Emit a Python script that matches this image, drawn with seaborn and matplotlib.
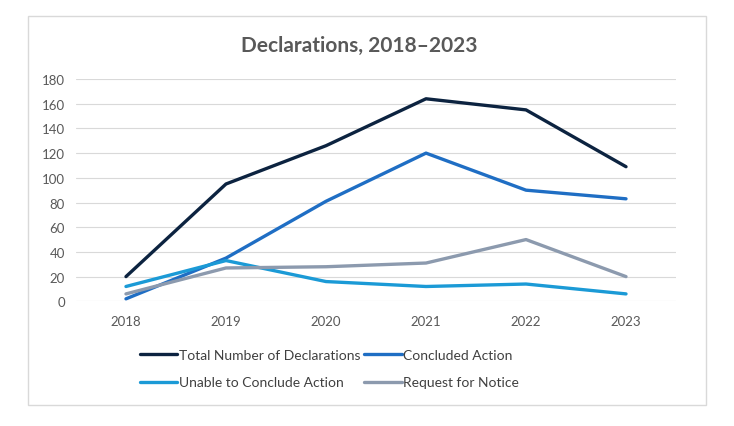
import pandas as pd
import matplotlib.pyplot as plt
import seaborn as sns
from matplotlib.patches import Rectangle

years = [2018, 2019, 2020, 2021, 2022, 2023]
total = [20, 95, 126, 164, 155, 109]
concluded = [2, 35, 81, 120, 90, 83]
unable = [12, 33, 16, 12, 14, 6]
request = [6, 27, 28, 31, 50, 20]

series_names = ['Total Number of Declarations', 'Concluded Action',
                'Unable to Conclude Action', 'Request for Notice']
colors = ['#0c2340', '#1f6ec4', '#1b9ad6', '#8c9aae']

df = pd.DataFrame({'Year': years * 4,
                   'Count': total + concluded + unable + request,
                   'Series': [s for s in series_names for _ in years]})

sns.set_style('white')
plt.rcParams['font.family'] = ['Lato', 'DejaVu Sans']

fig = plt.figure(figsize=(7.34, 4.27), dpi=100)
ax = fig.add_axes([0.1035, 0.292, 0.8175, 0.5206])

sns.lineplot(data=df, x='Year', y='Count', hue='Series', hue_order=series_names,
             palette=colors, linewidth=2.4, ax=ax, legend=True)

ax.set_xlim(2017.5, 2023.5)
ax.set_ylim(0, 180)
ax.set_xticks(years)
ax.set_yticks(range(0, 181, 20))
ax.grid(axis='y', color='#d9d9d9', linewidth=0.8)
ax.set_axisbelow(True)
for s in ax.spines.values():
    s.set_visible(False)
ax.tick_params(axis='both', length=0, labelsize=9.5, labelcolor='#595959')
ax.tick_params(axis='x', pad=10)
ax.tick_params(axis='y', pad=8)
ax.set_xlabel('')
ax.set_ylabel('')

fig.text(0.49, 0.893, 'Declarations, 2018\u20132023', ha='center', va='center',
         fontsize=15, fontweight='bold', color='#595959')

# legend is filled column by column, so reorder to get rows like the original
handles, labels = ax.get_legend_handles_labels()
order = [0, 2, 1, 3]
ax.legend([handles[i] for i in order], [labels[i] for i in order],
          loc='upper left', bbox_to_anchor=(0.183, 0.193),
          bbox_transform=fig.transFigure, ncol=2, frameon=False,
          fontsize=10, labelcolor='#404040', handlelength=2.7, handletextpad=0.1,
          columnspacing=0.3, labelspacing=1.1, borderaxespad=0)

fig.add_artist(Rectangle((28 / 734, 1 - 406 / 427), 678 / 734, 389 / 427,
                         transform=fig.transFigure, fill=False,
                         edgecolor='#d9d9d9', linewidth=1))

fig.savefig('out.png', dpi=100)
